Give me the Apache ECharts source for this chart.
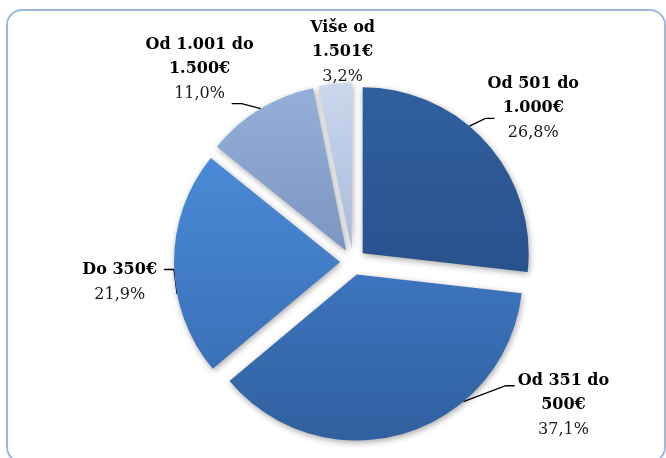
<!DOCTYPE html>
<html>
<head>
<meta charset="utf-8">
<script src="https://cdn.jsdelivr.net/npm/echarts@6/dist/echarts.min.js"></script>
<style>
  html, body { margin: 0; padding: 0; background: #fff; }
  #main { width: 666px; height: 458px; }
</style>
</head>
<body>
<div id="main"></div>
<script>
// kategorije i udjeli (%)
var labels = ['Od 501 do\n1.000€', 'Od 351 do\n500€', 'Do 350€', 'Od 1.001 do\n1.500€', 'Više od\n1.501€'];
var values = [26.8, 37.1, 21.9, 11.0, 3.2];
var percentText = ['26,8%', '37,1%', '21,9%', '11,0%', '3,2%'];
var colors = [
    ['#30609f', '#28528c'],
    ['#3d74be', '#30609f'],
    ['#4a8ad6', '#3a70b8'],
    ['#94afda', '#7c96c2'],
    ['#cad7ed', '#a9bcdc']
];

var RADIUS = 166;

// podešavanje natpisa po kriški: duljine linije, razmak, padding [gore, desno, dolje, lijevo]
// lead: kut početka linije na luku, kraj linije u odnosu na okvir natpisa
var labelTune = [
    {len: 8, len2: 6, dist: -11, pad: [0, 0, 59, 0], line: true,
        lead: {ang: 40, right: false, ox: 7, bottom: false, oy: 43, bx: -9}},
    {len: 4, len2: 10, dist: 102, pad: [0, 0, 64, 0], line: true,
        lead: {ang: 140, right: false, ox: -3, bottom: false, oy: 13, bx: -9}},
    {len: 6, len2: 6, dist: 5, pad: [37, 0, 0, 0], line: true,
        lead: {ang: 259, right: true, ox: 7, bottom: true, oy: -33, bx: 10}},
    {len: 14, len2: 8, dist: -9, pad: [0, 0, 56, 0], line: true,
        lead: {ang: 329, right: true, ox: -22, bottom: false, oy: 67, bx: 10}},
    {len: 0, len2: 0, dist: -40, pad: [0, 0, 64, 0], line: false, lead: null}
];

var myChart = echarts.init(document.getElementById('main'));

var data = values.map(function (v, i) {
    var t = labelTune[i];
    return {
        name: labels[i],
        value: v,
        selected: true,
        label: {distanceToLabelLine: t.dist, padding: t.pad},
        labelLine: {show: t.line, length: t.len, length2: t.len2},
        itemStyle: {
            color: new echarts.graphic.LinearGradient(0, 0, 0, 1, [
                {offset: 0, color: colors[i][0]},
                {offset: 1, color: colors[i][1]}
            ])
        }
    };
});

myChart.setOption({
    backgroundColor: '#ffffff',
    animation: false,
    graphic: [{
        type: 'rect',
        shape: {x: 7, y: 10, width: 658, height: 452, r: 15},
        style: {fill: 'none', stroke: '#9cb8dd', lineWidth: 2}
    }],
    series: [{
        type: 'pie',
        center: [353, 262],
        radius: RADIUS,
        startAngle: 90,
        clockwise: true,
        avoidLabelOverlap: false,
        selectedMode: 'multiple',
        selectedOffset: 13,
        itemStyle: {
            shadowBlur: 6,
            shadowColor: 'rgba(0,0,0,0.35)',
            shadowOffsetX: 1,
            shadowOffsetY: 2
        },
        label: {
            show: true,
            position: 'outside',
            formatter: function (p) {
                return '{b|' + p.name.split('\n').join('}\n{b|') + '}\n{p|' + percentText[p.dataIndex] + '}';
            },
            rich: {
                b: {
                    fontFamily: 'DejaVu Serif',
                    fontWeight: 'bold',
                    fontSize: 16,
                    color: '#000',
                    lineHeight: 24.5,
                    align: 'center'
                },
                p: {
                    fontFamily: 'DejaVu Serif',
                    fontSize: 16,
                    color: '#1a1a1a',
                    lineHeight: 24.5,
                    align: 'center'
                }
            }
        },
        labelLine: {
            show: true,
            lineStyle: {color: '#000', width: 1.3}
        },
        // linija ide s luka prema natpisu (kao u Excelu)
        labelLayout: function (params) {
            var lead = labelTune[params.dataIndex].lead;
            var pts = params.labelLinePoints;
            if (!lead || !pts) {
                return {};
            }
            var dx = pts[1][0] - pts[0][0], dy = pts[1][1] - pts[0][1];
            var l = Math.sqrt(dx * dx + dy * dy) || 1;
            var cx = pts[0][0] - dx / l * RADIUS, cy = pts[0][1] - dy / l * RADIUS;
            var a = lead.ang * Math.PI / 180;
            var start = [cx + RADIUS * Math.sin(a), cy - RADIUS * Math.cos(a)];
            var r = params.labelRect;
            var end = [
                (lead.right ? r.x + r.width : r.x) + lead.ox,
                (lead.bottom ? r.y + r.height : r.y) + lead.oy
            ];
            return {labelLinePoints: [start, [end[0] + lead.bx, end[1]], end]};
        },
        emphasis: {disabled: true},
        data: data
    }]
});
</script>
</body>
</html>
